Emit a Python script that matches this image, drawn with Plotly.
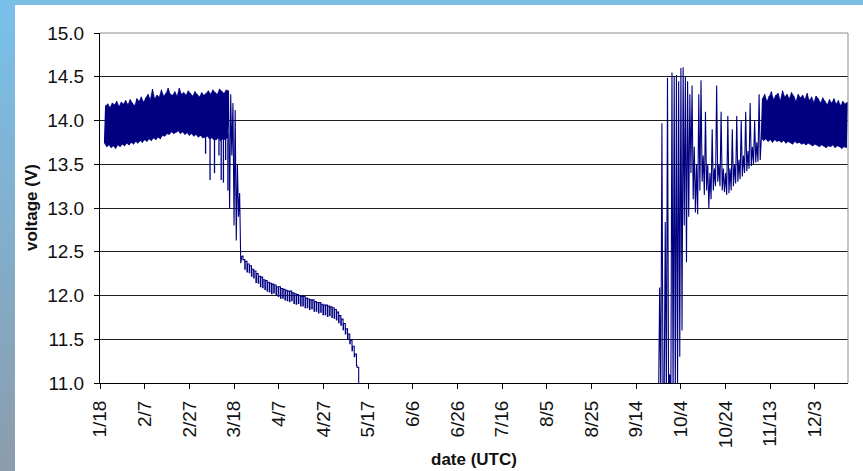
import pandas as pd
import plotly.graph_objects as go

# ---------------- data ----------------
AXIS_START = "2008-01-18"
AXIS_END = "2008-12-17T19:00"
TICK_DATES = ["2008-01-18", "2008-02-07", "2008-02-27", "2008-03-18", "2008-04-07",
              "2008-04-27", "2008-05-17", "2008-06-06", "2008-06-26", "2008-07-16",
              "2008-08-05", "2008-08-25", "2008-09-14", "2008-10-04", "2008-10-24",
              "2008-11-13", "2008-12-03"]
TICK_LABELS = ["1/18", "2/7", "2/27", "3/18", "4/7", "4/27", "5/17", "6/6", "6/26",
               "7/16", "8/5", "8/25", "9/14", "10/4", "10/24", "11/13", "12/3"]
Y_MIN, Y_MAX, Y_STEP = 11.0, 15.0, 0.5

# Segment 1: daily low / high, one pair per day starting at SEG1_START
SEG1_START = "2008-01-20"
SEG1_LOW = [13.74, 13.70, 13.72, 13.69, 13.71, 13.68, 13.72, 13.70, 13.73, 13.71,
            13.74, 13.72, 13.75, 13.73, 13.76, 13.74, 13.77, 13.75, 13.78, 13.76,
            13.79, 13.77, 13.80, 13.78, 13.81, 13.79, 13.83, 13.82, 13.85, 13.84,
            13.87, 13.85, 13.86, 13.88, 13.85, 13.87, 13.84, 13.86, 13.83, 13.85,
            13.82, 13.84, 13.81, 13.83, 13.80, 13.81, 13.82, 13.79, 13.80, 13.78,
            13.78, 13.80, 13.77, 13.79, 13.78, 13.80]
SEG1_HIGH = [14.17, 14.19, 14.15, 14.20, 14.18, 14.22, 14.16, 14.21, 14.19, 14.23,
             14.18, 14.24, 14.20, 14.17, 14.25, 14.22, 14.27, 14.21, 14.26, 14.30,
             14.24, 14.36, 14.25, 14.29, 14.27, 14.35, 14.28, 14.31, 14.37, 14.30,
             14.29, 14.33, 14.28, 14.37, 14.30, 14.32, 14.29, 14.34, 14.31, 14.28,
             14.33, 14.30, 14.27, 14.32, 14.29, 14.31, 14.34, 14.30, 14.35, 14.32,
             14.30, 14.36, 14.33, 14.31, 14.35, 14.34]
# short downward dips in early March
DIP_DATES = ["2008-03-05T06:00", "2008-03-07T06:00", "2008-03-09T06:00",
             "2008-03-11T06:00", "2008-03-12T06:00", "2008-03-13T06:00",
             "2008-03-14T06:00", "2008-03-15T06:00"]
DIP_V = [13.62, 13.32, 13.40, 13.60, 13.32, 13.29, 13.55, 13.20]

# Transition: one value every half day starting at TRANS_START
TRANS_START = "2008-03-16"
TRANS_V = [13.0, 14.3, 13.6, 14.2, 12.8, 14.12, 12.63, 13.5, 12.9, 13.17, 12.37, 12.45]

# Decline: daily peak / dip starting at DECL_START
DECL_START = "2008-03-22"
DECL_PEAK = [12.41, 12.39, 12.36, 12.34, 12.30, 12.28, 12.25, 12.22, 12.21, 12.18,
             12.17, 12.15, 12.14, 12.13, 12.12, 12.10, 12.10, 12.08, 12.07, 12.06,
             12.05, 12.05, 12.03, 12.02, 12.01, 12.00, 11.99, 11.99, 11.97, 11.96,
             11.95, 11.95, 11.93, 11.92, 11.92, 11.90, 11.89, 11.89, 11.88, 11.87,
             11.86, 11.84, 11.81, 11.77, 11.73, 11.68, 11.62, 11.56, 11.49, 11.42,
             11.33, 11.18]
DECL_DIP = [12.30, 12.27, 12.26, 12.22, 12.20, 12.15, 12.14, 12.10, 12.09, 12.07,
            12.05, 12.04, 12.02, 12.03, 12.00, 11.99, 11.97, 11.97, 11.95, 11.94,
            11.93, 11.94, 11.91, 11.90, 11.91, 11.88, 11.88, 11.86, 11.86, 11.84,
            11.85, 11.82, 11.82, 11.80, 11.81, 11.78, 11.78, 11.76, 11.77, 11.75,
            11.74, 11.72, 11.69, 11.66, 11.61, 11.56, 11.50, 11.45, 11.37, 11.30,
            11.20, 10.80]

# Recovery: one value every half day starting at REC_START
REC_START = "2008-09-24"
REC_V = [10.8, 12.09, 10.8, 13.97, 10.8, 10.8, 12.84, 10.8, 14.49, 10.8,
         11.1, 10.8, 14.55, 10.8, 14.5, 10.8, 14.52, 10.9, 14.45, 11.3,
         14.6, 11.6, 14.61, 12.8, 14.5, 12.38, 14.45, 12.9,
         14.3, 13.4, 14.4, 13.1, 13.7, 12.95, 13.5, 12.93, 14.3, 13.2,
         14.46, 13.3, 13.6, 13.15, 14.1, 13.2, 13.5, 13.0, 13.4, 13.1,
         13.9, 13.2, 13.45, 13.25, 14.4, 13.3, 13.5, 13.25, 14.1, 13.2,
         13.45, 13.18, 13.4, 13.15, 14.05, 13.17, 13.45, 13.2, 13.9, 13.25,
         13.5, 13.28, 14.05, 13.3, 13.55, 13.33, 14.0, 13.36, 13.6, 13.4,
         14.1, 13.42, 13.65, 13.45, 14.2, 13.48, 13.7, 13.5, 14.0, 13.52,
         13.75, 13.53, 14.3, 13.55]

# Segment 4: daily low / high starting at SEG4_START
SEG4_START = "2008-11-09"
SEG4_LOW = [13.80, 13.77, 13.79, 13.76, 13.78, 13.75, 13.78, 13.76, 13.77, 13.75,
            13.77, 13.74, 13.76, 13.75, 13.73, 13.76, 13.74, 13.75, 13.73, 13.74,
            13.72, 13.74, 13.73, 13.71, 13.73, 13.72, 13.70, 13.72, 13.71, 13.69,
            13.71, 13.70, 13.72, 13.69, 13.71, 13.70, 13.68, 13.70, 13.69]
SEG4_HIGH = [14.25, 14.30, 14.22, 14.28, 14.33, 14.24, 14.29, 14.31, 14.23, 14.34,
             14.27, 14.30, 14.25, 14.32, 14.28, 14.22, 14.30, 14.26, 14.29, 14.24,
             14.31, 14.23, 14.27, 14.21, 14.28, 14.25, 14.20, 14.26, 14.22, 14.18,
             14.24, 14.20, 14.25, 14.19, 14.23, 14.17, 14.22, 14.19, 14.21]

X_TITLE = "date (UTC)"
Y_TITLE = "voltage (V)"

# ---------------- build series ----------------
HALF = pd.Timedelta(hours=12)
DAY = pd.Timedelta(days=1)


def pairs(start, first, second, offset=HALF):
    xs, ys = [], []
    t0 = pd.Timestamp(start)
    for i, (a, b) in enumerate(zip(first, second)):
        t = t0 + i * DAY
        xs.extend([t, t + offset])
        ys.extend([a, b])
    return xs, ys


def halfsteps(start, vals):
    t0 = pd.Timestamp(start)
    return [t0 + i * HALF for i in range(len(vals))], list(vals)


def band(start, lows, highs):
    t0 = pd.Timestamp(start)
    tx = [t0 + i * DAY + HALF for i in range(len(highs))]
    bx = [t0 + i * DAY for i in range(len(lows))]
    return tx + bx[::-1], list(highs) + list(lows)[::-1]


FONT = "Arial, Liberation Sans, sans-serif"
NAVY = "#000080"
LINE = dict(color=NAVY, width=1.1, simplify=False)

fig = go.Figure()
# filled daily bands
for st, lo, hi in [(SEG1_START, SEG1_LOW, SEG1_HIGH), (SEG4_START, SEG4_LOW, SEG4_HIGH)]:
    bx, by = band(st, lo, hi)
    fig.add_trace(go.Scatter(x=bx, y=by, mode="lines", fill="toself",
                             fillcolor=NAVY, line=dict(color=NAVY, width=0.5),
                             hoverinfo="skip"))

# segment 1 + transition as one line
x1, y1 = pairs(SEG1_START, SEG1_LOW, SEG1_HIGH)
xt, yt = halfsteps(TRANS_START, TRANS_V)
fig.add_trace(go.Scatter(x=x1 + xt, y=y1 + yt, mode="lines", line=LINE, hoverinfo="skip"))

# early March dips
dx, dy = [], []
for d, v in zip(DIP_DATES, DIP_V):
    t = pd.Timestamp(d)
    dx += [t, t, None]
    dy += [13.85, v, None]
fig.add_trace(go.Scatter(x=dx, y=dy, mode="lines", line=dict(color=NAVY, width=1.3),
                         hoverinfo="skip"))

# decline: plateau at the daily peak with a short dip at the end of each day
xd, yd = pairs(DECL_START, DECL_PEAK, DECL_DIP, offset=pd.Timedelta(hours=19))
fig.add_trace(go.Scatter(x=[xt[-1]] + xd, y=[yt[-1]] + yd, mode="lines",
                         line=dict(color=NAVY, width=1.1, shape="hv", simplify=False),
                         hoverinfo="skip"))

# recovery + segment 4
xr, yr = halfsteps(REC_START, REC_V)
x4, y4 = pairs(SEG4_START, SEG4_LOW, SEG4_HIGH)
fig.add_trace(go.Scatter(x=xr + x4, y=yr + y4, mode="lines", line=LINE, hoverinfo="skip"))

# ---------------- background panels ----------------
W, H = 863, 471
L, R, T, B = 100, 15, 33, 88
PW, PH = W - L - R, H - T - B


def px_x(p):
    return (p - L) / PW


def px_y(p):
    return (H - B - p) / PH


shapes = []
n = 30
c0 = (120, 192, 234)
c1 = (139, 157, 172)
for i in range(n):
    f = i / (n - 1)
    col = "rgb(%d,%d,%d)" % tuple(round(c0[k] + (c1[k] - c0[k]) * f) for k in range(3))
    y_top = i * H / n
    y_bot = (i + 1) * H / n + 1
    shapes.append(dict(type="rect", xref="paper", yref="paper", layer="below",
                       x0=px_x(0), x1=px_x(15), y0=px_y(y_bot), y1=px_y(y_top),
                       fillcolor=col, line=dict(width=0)))
shapes.append(dict(type="rect", xref="paper", yref="paper", layer="below",
                   x0=px_x(15), x1=px_x(W + 2), y0=px_y(H + 2), y1=px_y(5),
                   fillcolor="white", line=dict(width=0)))
shapes.append(dict(type="line", xref="paper", yref="paper", layer="above",
                   x0=0, x1=1, y0=1, y1=1, line=dict(color="#8c8c8c", width=1)))
shapes.append(dict(type="line", xref="paper", yref="paper", layer="above",
                   x0=1, x1=1, y0=0, y1=1, line=dict(color="#8c8c8c", width=1)))

fig.update_layout(
    width=W, height=H,
    margin=dict(l=L, r=R, t=T, b=B),
    paper_bgcolor="rgb(122,190,230)",
    plot_bgcolor="rgba(0,0,0,0)",
    showlegend=False,
    shapes=shapes,
    font=dict(family=FONT, size=19, color="#111"),
    annotations=[
        dict(text="<b>%s</b>" % Y_TITLE, xref="paper", yref="paper",
             x=px_x(31), y=0.5, xanchor="center", yanchor="middle",
             showarrow=False, textangle=-90,
             font=dict(family=FONT, size=17, color="#111")),
        dict(text="<b>%s</b>" % X_TITLE, xref="paper", yref="paper",
             x=px_x(474), y=px_y(459), xanchor="center", yanchor="middle",
             showarrow=False,
             font=dict(family=FONT, size=17, color="#111")),
    ],
)

fig.update_xaxes(
    type="date",
    range=[AXIS_START, AXIS_END],
    tickmode="array", tickvals=TICK_DATES, ticktext=TICK_LABELS,
    tickangle=-90,
    ticks="outside", ticklen=5, tickcolor="#000", tickwidth=1,
    ticklabelstandoff=4,
    showline=True, linecolor="#000", linewidth=1,
    showgrid=False, zeroline=False,
    tickfont=dict(family=FONT, size=19, color="#111"),
)
fig.update_yaxes(
    range=[Y_MIN, Y_MAX],
    tick0=Y_MIN, dtick=Y_STEP, tickformat=".1f",
    ticks="outside", ticklen=5, tickcolor="#000", tickwidth=1,
    ticklabelstandoff=6,
    showline=True, linecolor="#000", linewidth=1,
    showgrid=True, gridcolor="#1e1e1e", gridwidth=1,
    zeroline=False,
    tickfont=dict(family=FONT, size=19, color="#111"),
)

fig.write_html("out.html")
